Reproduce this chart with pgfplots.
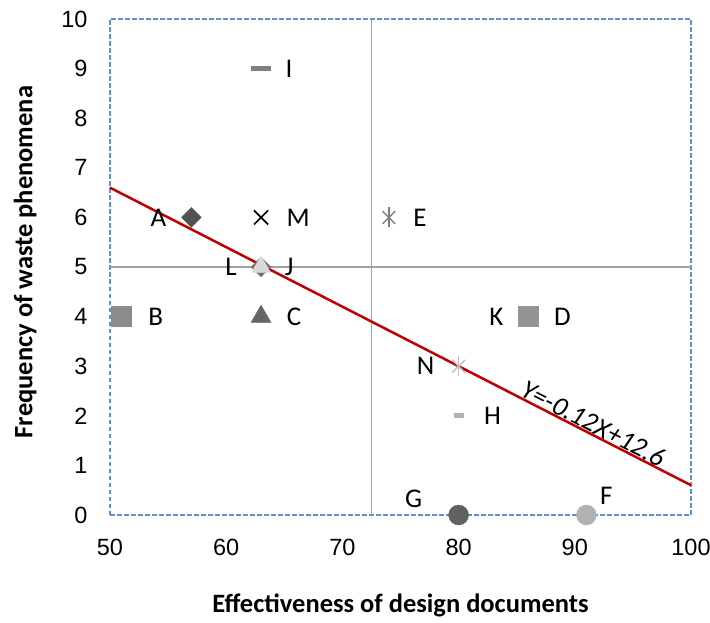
\documentclass[border=0pt]{standalone}
\usepackage{pgfplots}
\pgfplotsset{compat=1.18}
\usepackage{fontspec}
\setmainfont{Carlito}
\newfontfamily\arial{Liberation Sans}
\definecolor{borderblue}{RGB}{91,145,210}
\definecolor{quad}{RGB}{160,160,160}
\definecolor{regred}{RGB}{192,0,0}
\begin{document}
\begin{tikzpicture}
\begin{axis}[
  at={(110pt,107pt)}, anchor=south west,
  width=581pt, height=496pt, scale only axis,
  xmin=50, xmax=100, ymin=0, ymax=10,
  xtick={50,60,...,100}, ytick={0,1,...,10},
  major tick length=0pt,
  axis line style={draw=borderblue, line width=1.3pt, dash pattern=on 4.5pt off 2.5pt},
  tick label style={font=\arial\fontsize{23.5}{26}\selectfont},
  /pgf/number format/assume math mode=true,
  yticklabel style={xshift=-19pt},
  xticklabel style={yshift=-21pt},
  clip=false,
  xlabel={Effectiveness of design documents},
  ylabel={Frequency of waste phenomena},
  xlabel style={font=\bfseries\fontsize{26.5}{30}\selectfont, at={(axis description cs:0.5,-0.182)}, anchor=center},
  ylabel style={font=\bfseries\fontsize{26.5}{30}\selectfont, at={(axis description cs:-0.146,0.51)}, anchor=center},
]
% quadrant lines
\addplot[quad, line width=1.8pt] coordinates {(72.5,0) (72.5,10)};
\addplot[quad, line width=1.8pt] coordinates {(50,5) (100,5)};
% A
\addplot[only marks, mark=square*, mark size=7pt, mark options={rotate=45, fill=black!68, draw=black!68}] coordinates {(57,6)};
% M
\addplot[only marks, mark=x, mark size=10pt, mark options={line width=1.7pt, draw=black}] coordinates {(63,6)};
% I
\addplot[only marks, mark=-, mark size=10pt, mark options={line width=5.5pt, draw=black!50}] coordinates {(63,9)};
% J
\addplot[only marks, mark=square*, mark size=7pt, mark options={rotate=45, fill=black!55, draw=black!55}] coordinates {(63,5)};
% L
\addplot[only marks, mark=triangle*, mark size=11pt, mark options={fill=black!15, draw=black!15}] coordinates {(63,5)};
% B
\addplot[only marks, mark=square*, mark size=10pt, mark options={fill=black!45, draw=black!45}] coordinates {(51,4)};
% C
\addplot[only marks, mark=triangle*, mark size=11.5pt, mark options={fill=black!60, draw=black!60}] coordinates {(63,4)};
% E
\addplot[only marks, mark=x, mark size=9pt, mark options={line width=1.4pt, draw=black!50}] coordinates {(74,6)};
\addplot[only marks, mark=|, mark size=10pt, mark options={line width=1.4pt, draw=black!50}] coordinates {(74,6)};
% K / D
\addplot[only marks, mark=square*, mark size=10pt, mark options={fill=black!42, draw=black!42}] coordinates {(86,4)};
% N
\addplot[only marks, mark=x, mark size=9pt, mark options={line width=1.4pt, draw=black!25}] coordinates {(80,3)};
\addplot[only marks, mark=|, mark size=10pt, mark options={line width=1.4pt, draw=black!25}] coordinates {(80,3)};
% H
\addplot[only marks, mark=-, mark size=5pt, mark options={line width=5pt, draw=black!30}] coordinates {(80,2)};
% G
\addplot[only marks, mark=*, mark size=10pt, mark options={fill=black!62, draw=black!62}] coordinates {(80,0)};
% F
\addplot[only marks, mark=*, mark size=10pt, mark options={fill=black!30, draw=black!30}] coordinates {(91,0)};
% regression line
\addplot[regred, line width=2.5pt] coordinates {(50,6.6) (100,0.6)};
% labels
\begin{scope}[every node/.style={font=\fontsize{27}{30}\selectfont, inner sep=0pt}]
\node[xshift=-33pt] at (axis cs:57,6) {A};
\node[xshift=37pt] at (axis cs:63,6) {M};
\node[xshift=28pt] at (axis cs:63,9) {I};
\node[xshift=-30pt] at (axis cs:63,5) {L};
\node[xshift=28pt] at (axis cs:63,5) {J};
\node[xshift=34pt] at (axis cs:51,4) {B};
\node[xshift=33pt] at (axis cs:63,4) {C};
\node[xshift=31pt] at (axis cs:74,6) {E};
\node[xshift=-32pt] at (axis cs:86,4) {K};
\node[xshift=34pt] at (axis cs:86,4) {D};
\node[xshift=-33pt] at (axis cs:80,3) {N};
\node[xshift=34pt] at (axis cs:80,2) {H};
\node[xshift=-45pt, yshift=16pt] at (axis cs:80,0) {G};
\node[xshift=20pt, yshift=19pt] at (axis cs:91,0) {F};
\node[rotate=-27.1, anchor=south, font=\itshape\fontsize{27}{30}\selectfont, yshift=1pt] at (axis cs:91.2,1.66) {Y=-0.12X+12.6};
\end{scope}
\end{axis}
\pgfresetboundingbox
\useasboundingbox (0,0) rectangle (710pt,622pt);
\end{tikzpicture}
\end{document}
